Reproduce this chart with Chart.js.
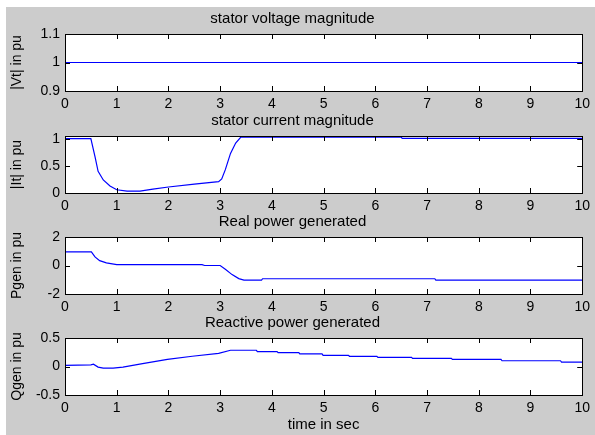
<!DOCTYPE html>
<html>
<head>
<meta charset="utf-8">
<script src="https://cdn.jsdelivr.net/npm/chart.js@4.4.1/dist/chart.umd.min.js"></script>
<style>
  html, body { margin: 0; padding: 0; background: #fff; overflow: hidden; }
  #fig { position: relative; width: 595px; height: 435px; }
  #bg { position: absolute; left: 6px; top: 7px; width: 589px; height: 428px; background: #cccccc; }
  canvas { position: absolute; left: 0; }
</style>
</head>
<body>
<div id="fig">
  <div id="bg"></div>
  <canvas id="c1" width="595" height="105" style="top:10px"></canvas>
  <canvas id="c2" width="595" height="105" style="top:112px"></canvas>
  <canvas id="c3" width="595" height="105" style="top:213px"></canvas>
  <canvas id="c4" width="595" height="121" style="top:314px"></canvas>
</div>
<script>
// time axis
const xTicks = [0, 1, 2, 3, 4, 5, 6, 7, 8, 9, 10];

// stator voltage magnitude
const vtTime = [0, 10];
const vtVals = [1, 1];
const vtTicks = [0.9, 1, 1.1];

// stator current magnitude
const itTime = [0, 0.5, 0.58, 0.64, 0.74, 0.87, 1.0, 1.2, 1.45, 1.7, 2.0, 2.5, 2.97, 3.03, 3.1, 3.2, 3.3, 3.4, 3.5, 6.5, 6.52, 10];
const itVals = [1.0, 1.0, 0.67, 0.40, 0.24, 0.13, 0.06, 0.035, 0.035, 0.07, 0.11, 0.165, 0.21, 0.26, 0.43, 0.73, 0.92, 1.03, 1.03, 1.03, 1.005, 1.005];
const itTicks = [0, 0.5, 1];

// real power generated
const pTime = [0, 0.51, 0.58, 0.67, 0.8, 1.0, 2.65, 2.7, 3.0, 3.1, 3.23, 3.36, 3.46, 3.8, 3.82, 7.15, 7.17, 10];
const pVals = [0.95, 0.95, 0.6, 0.34, 0.18, 0.06, 0.06, 0, 0, -0.27, -0.64, -0.92, -1.03, -1.03, -0.93, -0.93, -1.03, -1.03];
const pTicks = [-2, 0, 2];

// reactive power generated
const qTime = [0, 0.5, 0.55, 0.64, 0.74, 0.93, 1.12, 1.5, 1.98, 2.46, 2.97, 3.2, 3.7, 3.72, 4.1, 4.12, 4.52, 4.54, 4.97, 4.99, 5.48, 5.5, 6.03, 6.05, 6.7, 6.72, 7.47, 7.49, 8.43, 8.45, 9.58, 9.6, 10];
const qVals = [0.02, 0.03, 0.04, -0.01, -0.03, -0.03, -0.01, 0.05, 0.125, 0.18, 0.23, 0.285, 0.285, 0.262, 0.262, 0.244, 0.244, 0.22, 0.22, 0.196, 0.196, 0.179, 0.179, 0.161, 0.161, 0.143, 0.143, 0.125, 0.125, 0.101, 0.101, 0.077, 0.077];
const qTicks = [-0.5, 0, 0.5];

const FONT = 'Liberation Sans, Arial, Helvetica, sans-serif';

const frame = {
  id: 'frame',
  beforeDraw(chart) {
    const { ctx, chartArea: a } = chart;
    ctx.save();
    ctx.fillStyle = '#fff';
    ctx.fillRect(a.left, a.top, a.right - a.left, a.bottom - a.top);
    ctx.restore();
  },
  afterDraw(chart) {
    const { ctx, chartArea: a, scales: { x, y } } = chart;
    ctx.save();
    ctx.strokeStyle = '#000';
    ctx.lineWidth = 1;
    ctx.beginPath();
    x.ticks.forEach(t => {
      const px = Math.round(x.getPixelForValue(t.value)) + 0.5;
      ctx.moveTo(px, a.bottom); ctx.lineTo(px, a.bottom - 5);
      ctx.moveTo(px, a.top); ctx.lineTo(px, a.top + 5);
    });
    y.ticks.forEach(t => {
      const py = Math.round(y.getPixelForValue(t.value)) + 0.5;
      ctx.moveTo(a.left, py); ctx.lineTo(a.left + 5, py);
      ctx.moveTo(a.right, py); ctx.lineTo(a.right - 5, py);
    });
    ctx.stroke();
    ctx.strokeRect(Math.round(a.left) + 0.5, Math.round(a.top) + 0.5,
      Math.round(a.right - a.left), Math.round(a.bottom - a.top));
    ctx.restore();
  }
};

function makePanel(id, title, yLabel, times, vals, yTicks, yMin, yMax, xLabel) {
  const pts = times.map((t, i) => ({ x: t, y: vals[i] }));
  return new Chart(document.getElementById(id), {
    type: 'line',
    data: {
      datasets: [{
        data: pts,
        borderColor: '#0000ff',
        borderWidth: 1.2,
        pointRadius: 0,
        tension: 0,
        fill: false
      }]
    },
    options: {
      responsive: false,
      animation: false,
      devicePixelRatio: 1,
      layout: { padding: { left: 0, right: 10, top: 0, bottom: 0 } },
      plugins: {
        legend: { display: false },
        tooltip: { enabled: false },
        title: {
          display: true,
          text: title,
          color: '#000',
          font: { family: FONT, size: 15, weight: 'normal', lineHeight: 1 },
          padding: { top: 1, bottom: 8 }
        }
      },
      scales: {
        x: {
          type: 'linear',
          min: 0,
          max: 10,
          afterBuildTicks: s => { s.ticks = xTicks.map(v => ({ value: v })); },
          afterFit: s => { s.height = xLabel ? 40 : 24; },
          grid: { display: false, drawTicks: false },
          border: { display: false },
          ticks: {
            color: '#000',
            font: { family: FONT, size: 14 },
            padding: 5,
            maxRotation: 0,
            autoSkip: false,
            callback: v => String(v)
          },
          title: {
            display: !!xLabel,
            text: xLabel || '',
            color: '#000',
            font: { family: FONT, size: 15, lineHeight: 1.2 },
            padding: { top: 0, bottom: 1 }
          }
        },
        y: {
          min: yMin,
          max: yMax,
          afterBuildTicks: s => { s.ticks = yTicks.map(v => ({ value: v })); },
          afterFit: s => { s.width = 65; },
          grid: { display: false, drawTicks: false },
          border: { display: false },
          ticks: {
            color: '#000',
            font: { family: FONT, size: 14 },
            padding: 5,
            autoSkip: false,
            callback: v => String(v)
          },
          title: {
            display: true,
            text: yLabel,
            color: '#000',
            font: { family: FONT, size: 14, lineHeight: 1.2 },
            padding: { top: 9, bottom: 0 }
          }
        }
      }
    },
    plugins: [frame]
  });
}

makePanel('c1', 'stator voltage magnitude', '|Vt| in pu', vtTime, vtVals, vtTicks, 0.9, 1.1);
makePanel('c2', 'stator current magnitude', '|It| in pu', itTime, itVals, itTicks, 0, 1.05);
makePanel('c3', 'Real power generated', 'Pgen in pu', pTime, pVals, pTicks, -2, 2);
makePanel('c4', 'Reactive power generated', 'Qgen in pu', qTime, qVals, qTicks, -0.5, 0.5, 'time in sec');
</script>
</body>
</html>
